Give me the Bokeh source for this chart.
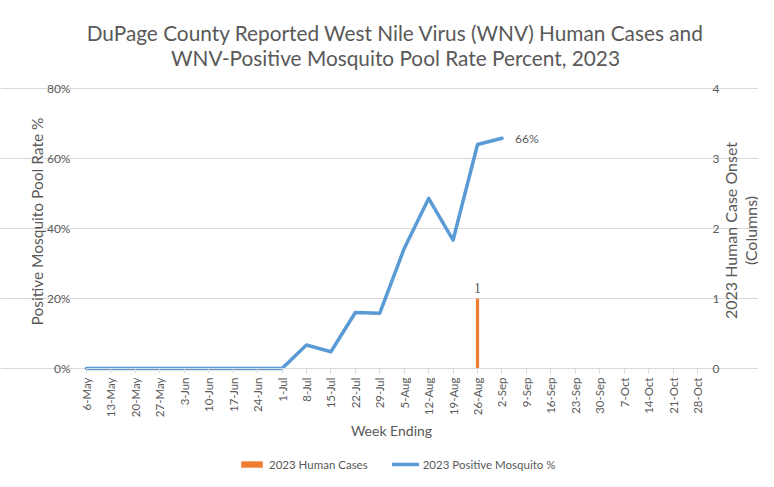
import math
from bokeh.plotting import figure
from bokeh.models import (Range1d, LinearAxis, FixedTicker, Legend, LegendItem, Grid,
                          PrintfTickFormatter, ColumnDataSource, Label, LabelSet)
from bokeh.embed import file_html
from bokeh.resources import INLINE

weeks = ["6-May", "13-May", "20-May", "27-May", "3-Jun", "10-Jun", "17-Jun", "24-Jun",
         "1-Jul", "8-Jul", "15-Jul", "22-Jul", "29-Jul", "5-Aug", "12-Aug", "19-Aug",
         "26-Aug", "2-Sep", "9-Sep", "16-Sep", "23-Sep", "30-Sep", "7-Oct", "14-Oct",
         "21-Oct", "28-Oct"]
# Positive mosquito pool rate (%), reported through 2-Sep
mosquito_pct = [0, 0, 0, 0, 0, 0, 0, 0, 0, 6.7, 4.8, 16.0, 15.8, 34.3, 48.6, 36.7, 64.0, 65.8]
human_cases = [0, 0, 0, 0, 0, 0, 0, 0, 0, 0, 0, 0, 0, 0, 0, 0, 1, 0, 0, 0, 0, 0, 0, 0, 0, 0]
pct_ticks = [0, 20, 40, 60, 80]
case_ticks = [0, 1, 2, 3, 4]

GREY = "#595959"
FONT = "Lato"

# ---- layout (pixels on the canvas) ----
W, H = 758, 471
PLOT_L, PLOT_R, PLOT_T, PLOT_B = 86, 697, 88, 368

xs = list(range(len(weeks)))
xscale = (PLOT_R - PLOT_L) / (xs[-1] - xs[0])
yscale = (PLOT_B - PLOT_T) / (pct_ticks[-1] - pct_ticks[0])
cscale = (PLOT_B - PLOT_T) / (case_ticks[-1] - case_ticks[0])


def dx(px):
    return xs[0] + (px - PLOT_L) / xscale


def dy(py):
    return pct_ticks[0] + (PLOT_B - py) / yscale


p = figure(width=W, height=H, x_range=Range1d(dx(0), dx(W)), y_range=Range1d(dy(H), dy(0)),
           output_backend="svg", toolbar_location=None,
           x_axis_location=None, y_axis_location=None, min_border=0)
p.extra_y_ranges = {"cases": Range1d(case_ticks[0] - (H - PLOT_B) / cscale,
                                     case_ticks[0] + PLOT_B / cscale)}
p.outline_line_color = None
p.background_fill_color = "white"
p.border_fill_color = "white"
for g in p.grid:
    g.visible = False

p.add_layout(Grid(dimension=1, ticker=FixedTicker(ticks=pct_ticks),
                  bounds=(xs[0], xs[-1]), grid_line_color="#d9d9d9"))

# x axis (category axis drawn at 0%)
xa = LinearAxis(fixed_location=pct_ticks[0], ticker=FixedTicker(ticks=xs),
                bounds=(xs[0], xs[-1]))
xa.major_label_overrides = {i: w for i, w in zip(xs, weeks)}
xa.major_label_orientation = math.pi / 2
xa.major_label_text_font = FONT
xa.major_label_text_font_size = "11.5px"
xa.major_label_text_color = GREY
xa.axis_line_color = "#d9d9d9"
xa.major_tick_line_color = "#d9d9d9"
xa.major_tick_out = 5
xa.major_tick_in = 0
xa.minor_tick_line_color = None
xa.major_label_standoff = 4
p.add_layout(xa, "below")

# left y axis
ya = LinearAxis(fixed_location=xs[0], ticker=FixedTicker(ticks=pct_ticks),
                bounds=(pct_ticks[0], pct_ticks[-1]))
ya.formatter = PrintfTickFormatter(format="%d%%")
ya.axis_line_color = None
ya.major_tick_line_color = None
ya.minor_tick_line_color = None
ya.major_label_text_font = FONT
ya.major_label_text_font_size = "12px"
ya.major_label_text_color = GREY
ya.major_label_standoff = 10
p.add_layout(ya, "left")

# right y axis (human cases)
ra = LinearAxis(y_range_name="cases", fixed_location=xs[-1],
                ticker=FixedTicker(ticks=case_ticks), bounds=(case_ticks[0], case_ticks[-1]))
ra.axis_line_color = None
ra.major_tick_line_color = None
ra.minor_tick_line_color = None
ra.major_label_text_font = FONT
ra.major_label_text_font_size = "12px"
ra.major_label_text_color = GREY
ra.major_label_standoff = 9
p.add_layout(ra, "right")

# glyphs
case_src = ColumnDataSource(dict(x=xs, top=human_cases,
                                 label=[str(c) if c else "" for c in human_cases]))
bar = p.vbar(x="x", top="top", width=0.13, source=case_src, y_range_name="cases",
             fill_color="#ED7D31", line_color=None)
mx = xs[:len(mosquito_pct)]
line = p.line(mx, mosquito_pct, line_color="#5B9BD5", line_width=3.5,
              line_join="round", line_cap="round")

p.add_layout(LabelSet(x="x", y="top", text="label", source=case_src, y_range_name="cases",
                      y_offset=6, text_align="center", text_baseline="bottom",
                      text_font=FONT, text_font_size="14px", text_color=GREY))
p.add_layout(Label(x=mx[-1], y=mosquito_pct[-1], text=f"{round(mosquito_pct[-1])}%",
                   x_offset=13, text_baseline="middle", text_align="left",
                   text_font=FONT, text_font_size="12px", text_color=GREY))


def text(px, py, s, size, angle=0.0, lh=1.2):
    p.add_layout(Label(x=dx(px), y=dy(py), text=s, angle=angle,
                       text_align="center", text_baseline="middle",
                       text_font=FONT, text_font_size=size, text_color=GREY,
                       text_line_height=lh))


# titles
text(395, 32, "DuPage County Reported West Nile Virus (WNV) Human Cases and", "20.8px")
text(395, 57, "WNV-Positive Mosquito Pool Rate Percent, 2023", "20.8px")
text(36, 221, "Positive Mosquito Pool Rate %", "15.5px", math.pi / 2)
text(740, 230, "2023 Human Case Onset\n(Columns)", "16px", math.pi / 2, 1.05)
text(391, 430, "Week Ending", "14px")

legend = Legend(items=[LegendItem(label="2023 Human Cases", renderers=[bar]),
                       LegendItem(label="2023 Positive Mosquito %", renderers=[line])],
                orientation="horizontal", location=(238, 0),
                border_line_color=None, background_fill_alpha=0,
                label_text_font=FONT, label_text_font_size="11.5px", label_text_color=GREY,
                label_height=14, glyph_width=27, glyph_height=8, spacing=24,
                padding=0, margin=0, label_standoff=4)
p.add_layout(legend, "center")

open("out.html", "w").write(file_html(p, INLINE))
